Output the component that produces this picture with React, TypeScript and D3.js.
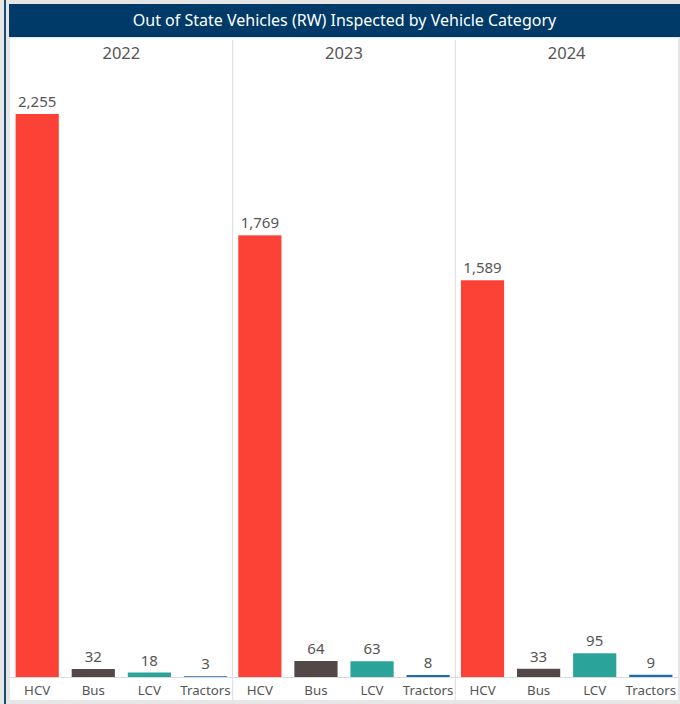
import React from "react";
import * as d3 from "d3";

const years = ["2022", "2023", "2024"];
const categories = ["HCV", "Bus", "LCV", "Tractors"];
const values2022 = [2255, 32, 18, 3];
const values2023 = [1769, 64, 63, 8];
const values2024 = [1589, 33, 95, 9];
const seriesValues = [values2022, values2023, values2024];
const categoryColors = ["#fc4136", "#524847", "#2aa39a", "#1c6cb5"];

const W = 680;
const H = 704;
const FONT = "'Noto Sans', 'Open Sans', sans-serif";

export default function App() {
  const left = 10;
  const right = 678;
  const baseY = 677;
  const panelScale = d3.scaleBand<string>().domain(years).range([left, right]).padding(0);
  const pw = panelScale.bandwidth();
  const xInner = d3.scaleBand<string>().domain(categories).range([0, pw]).paddingInner(0.23).paddingOuter(0.1);
  const y = d3.scaleLinear().domain([0, 2255]).range([baseY, 114]);
  const fmt = d3.format(",");

  return (
    <svg width={W} height={H} style={{ position: "absolute", left: 0, top: 0 }} fontFamily={FONT}>
      <rect x={0} y={0} width={W} height={H} fill="#e6e6e6" />
      <rect x={4} y={0} width={2} height={H} fill="#1d4a73" />
      <rect x={left} y={38} width={right - left} height={662} fill="#ffffff" />
      <rect x={9} y={4} width={W - 9} height={33} fill="#003a68" />
      <text x={(9 + W) / 2} y={26} textAnchor="middle" fill="#ffffff" fontSize={16}>
        Out of State Vehicles (RW) Inspected by Vehicle Category
      </text>
      {years.map((yr, i) => {
        const px = panelScale(yr)!;
        return (
          <g key={yr}>
            {i > 0 && <line x1={px} x2={px} y1={40} y2={700} stroke="#dcdcdc" strokeWidth={1} />}
            <text x={px + pw / 2} y={59} textAnchor="middle" fill="#555" fontSize={16.5}>
              {yr}
            </text>
            {categories.map((c, j) => {
              const v = seriesValues[i][j];
              const bx = px + xInner(c)!;
              const top = y(v);
              return (
                <g key={c}>
                  <rect x={bx} y={top} width={xInner.bandwidth()} height={baseY - top} fill={categoryColors[j]} />
                  <text x={bx + xInner.bandwidth() / 2} y={top - 7} textAnchor="middle" fill="#555" fontSize={15}>
                    {fmt(v)}
                  </text>
                  <text x={bx + xInner.bandwidth() / 2} y={695} textAnchor="middle" fill="#555" fontSize={13.3}>
                    {c}
                  </text>
                </g>
              );
            })}
          </g>
        );
      })}
      <line x1={left} x2={right} y1={baseY + 0.5} y2={baseY + 0.5} stroke="#d9d9d9" strokeWidth={1} />
    </svg>
  );
}
